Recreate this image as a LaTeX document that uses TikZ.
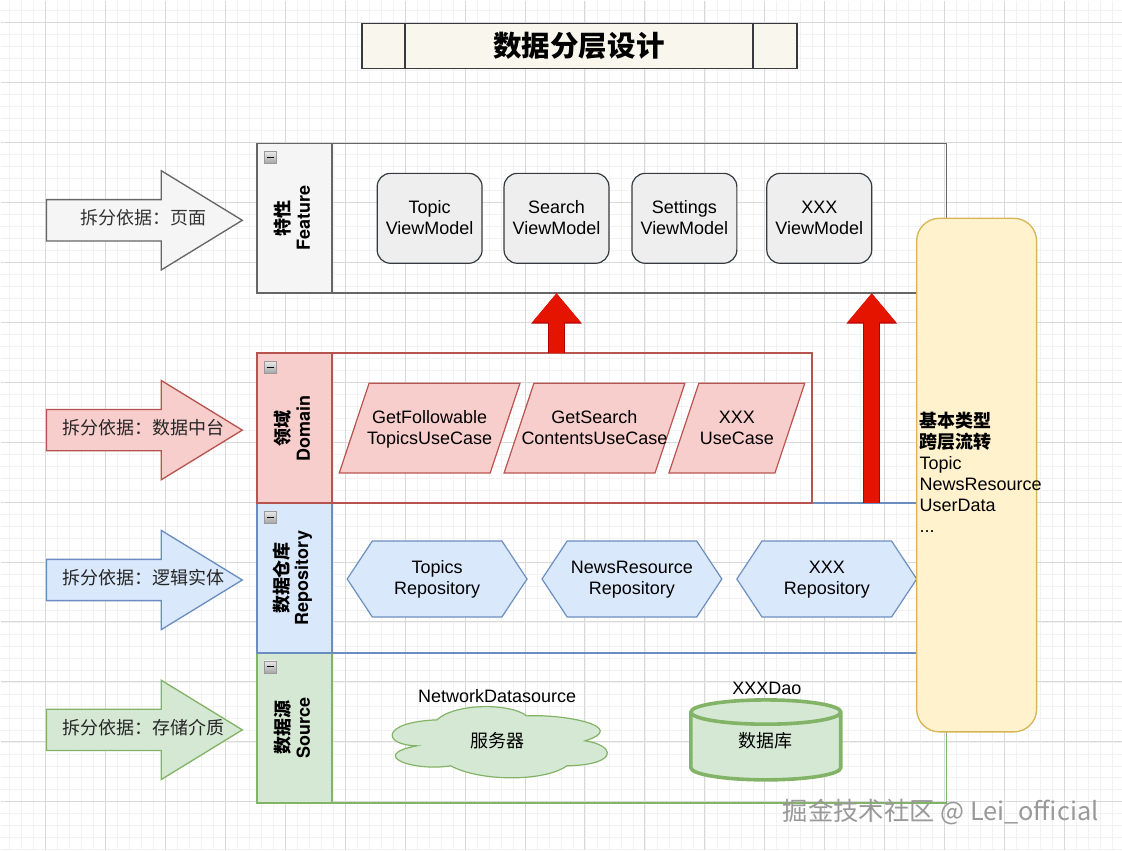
\documentclass[tikz,border=0pt]{standalone}
\usepackage{fontspec}
\setmainfont{Liberation Sans}
\newfontfamily\cjk{Noto Sans CJK SC}
\newfontfamily\latinbold{TeX Gyre Heros}
\usetikzlibrary{arrows.meta, positioning, shapes.geometric, shapes.arrows, shapes.symbols}
\definecolor{greyfill}{HTML}{F5F5F5}
\definecolor{greyline}{HTML}{666666}
\definecolor{redfill}{HTML}{F8CECC}
\definecolor{redline}{HTML}{B85450}
\definecolor{bluefill}{HTML}{DAE8FC}
\definecolor{blueline}{HTML}{6C8EBF}
\definecolor{greenfill}{HTML}{D5E8D4}
\definecolor{greenline}{HTML}{82B366}
\definecolor{yellowfill}{HTML}{FFF2CC}
\definecolor{yellowline}{HTML}{D6B656}
\definecolor{titlefill}{HTML}{F9F7ED}
\definecolor{darkline}{HTML}{36393D}
\definecolor{vmfill}{HTML}{EEEEEE}
\definecolor{uparrowred}{HTML}{E51400}
\definecolor{uparrowedge}{HTML}{B20000}
\newcommand{\arrowtext}[1]{\hspace*{24.5pt}\makebox[0pt]{#1}}

\begin{document}
\begin{tikzpicture}[
		x=0.75pt, y=-0.75pt,
		every node/.style={font=\fontsize{13.5}{15.75}\selectfont, outer sep=0pt},
		gridminor/.style={draw=black!5, line width=0.5pt},
		gridmajor/.style={draw=black!15, line width=0.75pt},
		titlebox/.style={
			draw=darkline,
			fill=titlefill,
			line width=1.1pt,
			minimum height=33.75pt,
			inner sep=0pt,
		},
		lanebody/.style={
			line width=1.2pt,
			minimum height=112.5pt,
			anchor=north west,
			inner sep=0pt,
		},
		lanehead/.style={
			line width=1.2pt,
			minimum width=56.25pt,
			minimum height=112.5pt,
			anchor=north west,
			inner sep=0pt,
		},
		lanetext/.style={
			rotate=90,
			align=center,
			inner sep=0pt,
			font=\fontsize{13.5}{15}\selectfont,
		},
		lanemark/.style={
			draw=black!40,
			line width=0.4pt,
			top color=black!8,
			bottom color=black!35,
			minimum size=9pt,
			inner sep=0pt,
			path picture={
				\draw[black, line width=0.8pt] ([xshift=-2.6pt]path picture bounding box.center) -- ([xshift=2.6pt]path picture bounding box.center);
			},
		},
		basisarrow/.style={
			single arrow,
			line width=1pt,
			minimum height=147pt,
			single arrow head extend=21.75pt,
			single arrow tip angle=63,
			single arrow head indent=0pt,
			text height=10pt,
			text depth=3pt,
			inner ysep=8.5pt,
			inner xsep=0pt,
			anchor=tip,
			font=\fontsize{13.5}{15.75}\selectfont\cjk,
		},
		vmbox/.style={
			draw=darkline,
			fill=vmfill,
			line width=0.9pt,
			rounded corners=10pt,
			minimum width=78.75pt,
			minimum height=67.5pt,
			align=center,
			text height=28pt,
			text depth=3pt,
			inner sep=0pt,
		},
		usecasebox/.style={
			trapezium,
			trapezium left angle=71.6,
			trapezium right angle=108.4,
			trapezium stretches body=true,
			draw=redline,
			fill=redfill,
			line width=0.9pt,
			align=center,
			text height=28pt,
			text depth=3pt,
			inner xsep=0pt,
			inner ysep=18.25pt,
		},
		repobox/.style={
			signal,
			signal to=east and west,
			signal pointer angle=113,
			draw=blueline,
			fill=bluefill,
			line width=0.9pt,
			minimum width=135pt,
			minimum height=57pt,
			align=center,
			text height=26.5pt,
			text depth=3pt,
			inner sep=0pt,
		},
		uparrow/.style={
			draw=uparrowred,
			line width=11.5pt,
			-{Triangle[width=35pt,length=21.8pt,fill=uparrowred]},
			preaction={
				draw=uparrowedge,
				line width=12.5pt,
				-{Triangle[width=36.5pt,length=22.8pt,fill=uparrowedge]},
			},
		},
	]

		% grid
		\foreach \x in {9,21,...,1122} \draw[gridminor] (\x,0) -- (\x,850);
		\foreach \y in {10,22,...,850} \draw[gridminor] (0,\y) -- (1122,\y);
		\foreach \x in {45,105,...,1122} \draw[gridmajor] (\x,0) -- (\x,850);
		\foreach \y in {22,82,...,850} \draw[gridmajor] (0,\y) -- (1122,\y);
		\useasboundingbox (0,0) rectangle (1122,850);

		% title
		\node[titlebox, minimum width=261pt] (title) at (579,45.5) {\fontsize{21.4}{24}\selectfont\cjk\bfseries 数据分层设计};
		\node[titlebox, minimum width=32.25pt, left=0pt of title] (titleleft) {};
		\node[titlebox, minimum width=33pt, right=0pt of title] (titleright) {};

		% lanes, from the bottom up
		\node[lanebody, draw=greenline, minimum width=517.5pt] (source) at (257,653) {};
		\node[lanehead, draw=greenline, fill=greenfill] (sourcehead) at (257,653) {};
		\node[lanebody, draw=blueline, minimum width=517.5pt] (repository) at (257,503) {};
		\node[lanehead, draw=blueline, fill=bluefill] (repositoryhead) at (257,503) {};
		\node[lanebody, draw=redline, minimum width=416.25pt] (domain) at (257,353) {};
		\node[lanehead, draw=redline, fill=redfill] (domainhead) at (257,353) {};
		\node[lanebody, draw=greyline, minimum width=517.5pt] (feature) at (257,143) {};
		\node[lanehead, draw=greyline, fill=greyfill] (featurehead) at (257,143) {};

		\node[lanetext] (featuretext) at (292,218) {{\cjk\bfseries 特性}\\{\latinbold\bfseries Feature}};
		\node[lanetext] (domaintext) at (292,428) {{\cjk\bfseries 领域}\\{\latinbold\bfseries Domain}};
		\node[lanetext] (repositorytext) at (292,578) {{\cjk\bfseries 数据仓库}\\{\latinbold\bfseries Repository}};
		\node[lanetext] (sourcetext) at (292,728) {{\cjk\bfseries 数据源}\\{\latinbold\bfseries Source}};

		\node[lanemark] (featuremark) at (270,157) {};
		\node[lanemark] (domainmark) at (270,367) {};
		\node[lanemark] (repositorymark) at (270,517) {};
		\node[lanemark] (sourcemark) at (270,667) {};

		% left arrows
		\node[basisarrow, draw=greyline, fill=greyfill, text=black!80] (pagearrow) at (242,220) {\arrowtext{拆分依据：页面}};
		\node[basisarrow, draw=redline, fill=redfill, text=black!85] (middlearrow) at (242,430) {\arrowtext{拆分依据：数据中台}};
		\node[basisarrow, draw=blueline, fill=bluefill, text=black!85] (entityarrow) at (242,580) {\arrowtext{拆分依据：逻辑实体}};
		\node[basisarrow, draw=greenline, fill=greenfill, text=black!85] (storagearrow) at (242,730) {\arrowtext{拆分依据：存储介质}};

		% view models
		\node[vmbox] (topicvm) at (429.5,218) {Topic\\ViewModel};
		\node[vmbox] (searchvm) at (556.5,218) {Search\\ViewModel};
		\node[vmbox] (settingsvm) at (684.5,218) {Settings\\ViewModel};
		\node[vmbox] (xxxvm) at (819.5,218) {XXX\\ViewModel};

		% use cases
		\node[usecasebox, minimum width=135.75pt] (followcase) at (429.5,428) {GetFollowable\\\makebox[85pt]{TopicsUseCase}};
		\node[usecasebox, minimum width=135.75pt] (searchcase) at (594.5,428) {GetSearch\\\makebox[85pt]{ContentsUseCase}};
		\node[usecasebox, minimum width=102pt] (xxxcase) at (737,428) {XXX\\UseCase};

		% repositories
		\node[repobox] (topicsrepo) at (437,579) {Topics\\Repository};
		\node[repobox] (newsrepo) at (632,579) {NewsResource\\Repository};
		\node[repobox] (xxxrepo) at (827,579) {XXX\\Repository};

		% source
		\draw[draw=greenline, fill=greenfill, line width=0.9pt]
			(436.7,720) .. controls (455,703) and (510,703) .. (526.7,716)
			.. controls (565,714) and (630,727) .. (585,741)
			.. controls (615,745) and (620,765) .. (566.7,766)
			.. controls (545,782) and (480,782) .. (450.7,766)
			.. controls (412,772) and (368,755) .. (416.7,746)
			.. controls (381,745) and (381,722) .. (436.7,720) -- cycle;
		\node[font=\fontsize{13.5}{15.75}\selectfont\cjk] (server) at (497,741) {服务器};
		\node (networklabel) at (497,696) {NetworkDatasource};
		\node[cylinder, shape border rotate=90, shape aspect=0.45, draw=greenline, fill=greenfill, line width=2.7pt, minimum width=112.5pt, minimum height=60pt, inner sep=0pt, font=\fontsize{13.5}{15.75}\selectfont\cjk] (database) at (766,747) {\raisebox{11pt}{数据库}};
		\node (daolabel) at (767,688) {XXXDao};

		% red arrows
		\draw[uparrow] (domain.north -| searchvm) -- (feature.south -| searchvm);
		\draw[uparrow] (domain.south -| xxxvm.east) -- (feature.south -| xxxvm.east);

		% shared types
		\node[draw=yellowline, fill=yellowfill, line width=1pt, rounded corners=17pt, minimum width=90pt, minimum height=385.5pt, text width=85.5pt, text depth=83pt, inner xsep=2.25pt, inner ysep=0pt, align=left] (shared) at (977,475) {{\cjk\bfseries 基本类型\\跨层流转}\\Topic\\NewsResource\\UserData\\...};

		% watermark
		\node[text=black!40, font=\fontsize{19}{22}\selectfont\cjk] (watermark) at (941,812) {掘金技术社区 @ Lei\_official};

	\end{tikzpicture}
\end{document}
